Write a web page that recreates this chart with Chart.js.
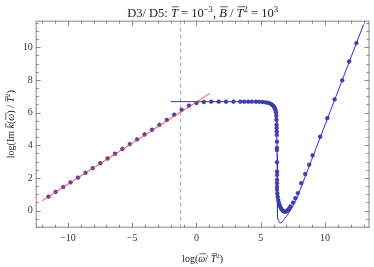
<!DOCTYPE html>
<html>
<head>
<meta charset="utf-8">
<script src="https://cdn.jsdelivr.net/npm/chart.js@4"></script>
<style>body{margin:0;background:#fff}</style>
</head>
<body>
<canvas id="grafico" width="374" height="267"></canvas>
<script>
// axis limits and labelled ticks
const xMin = -12.5, xMax = 13.46, yMin = -1.05, yMax = 11.63;
const xTicks = [-10, -5, 0, 5, 10];
const yTicks = [0, 2, 4, 6, 8, 10];

// numerical points (dots)
const dotX = [-11.51, -10.94, -10.36, -9.79, -9.21, -8.63, -8.06, -7.48, -6.91, -6.33, -5.76, -5.18, -4.61, -4.03, -3.45,
  -2.88, -2.30, -1.73, -1.15, -0.58, 0, 0.58, 1.15, 1.73, 2.30, 2.88, 3.41, 3.72, 4.03, 4.31, 4.62, 4.87, 5.13, 5.38,
  5.56, 5.72, 5.85, 5.95, 6.03, 6.10, 6.15, 6.19, 6.21, 6.22, 6.23, 6.24, 6.25, 6.25, 6.26, 6.26, 6.26, 6.27, 6.27,
  6.27, 6.27, 6.27, 6.27, 6.27, 6.29, 6.32, 6.36, 6.41, 6.47, 6.54, 6.62, 6.70, 6.80, 6.90, 7.00, 7.10, 7.20, 7.31,
  7.52, 7.69, 7.88, 8.15, 8.46, 8.77, 9.03, 9.62, 10.18, 10.75, 11.34, 11.88, 12.44];
const dotY = [0.85, 1.15, 1.44, 1.73, 2.02, 2.31, 2.60, 2.90, 3.19, 3.48, 3.77, 4.07, 4.36, 4.66, 4.95,
  5.25, 5.55, 5.87, 6.17, 6.43, 6.59, 6.65, 6.67, 6.67, 6.67, 6.67, 6.67, 6.67, 6.67, 6.67, 6.67, 6.66, 6.65, 6.63,
  6.60, 6.56, 6.50, 6.44, 6.36, 6.27, 6.15, 6.00, 5.80, 5.57, 5.26, 5.06, 4.84, 4.63, 4.22, 3.84, 3.71, 2.96, 2.39,
  2.19, 1.88, 1.68, 1.45, 1.27, 1.05, 0.85, 0.65, 0.48, 0.33, 0.20, 0.08, 0.00, -0.05, -0.07, -0.05, 0.02, 0.12, 0.25,
  0.49, 0.76, 1.07, 1.68, 2.24, 2.81, 3.38, 4.52, 5.66, 6.81, 7.98, 9.13, 10.26];

// blue approximation curve
const fitX = [-2.0, 4.5, 5.0, 5.4, 5.7, 5.9, 6.05, 6.15, 6.21, 6.25, 6.27, 6.28, 6.29, 6.31, 6.34, 6.39, 6.46,
  6.55, 6.65, 6.8, 7.0, 7.18, 7.4, 7.6, 7.82, 8.2, 13.0];
const fitY = [6.67, 6.67, 6.66, 6.63, 6.56, 6.45, 6.28, 6.05, 5.7, 5.0, 3.5, 1.5, 0.3, -0.2, -0.45, -0.62, -0.72,
  -0.75, -0.72, -0.55, -0.35, -0.16, 0.12, 0.42, 0.75, 1.55, 11.4];

// red low frequency line
const redX = [-12, 1.05];
const redY = [0.6, 7.18];

// dashed marker
const dashX = -1.23;

const pts = (xs, ys) => xs.map((x, i) => ({ x: x, y: ys[i] }));
const serif = '"Liberation Serif", "DejaVu Serif", serif';

function runFont(r, size) {
  return (r.it ? 'italic ' : '') + (r.sup ? size * 0.7 : size) + 'px ' + serif;
}

// draws a row of text pieces centred on cx, baseline cy
function drawRuns(c, runs, cx, cy, size) {
  let w = 0;
  runs.forEach(r => { c.font = runFont(r, size); w += c.measureText(r.t).width; });
  let x = cx - w / 2;
  c.textAlign = 'left';
  c.textBaseline = 'alphabetic';
  runs.forEach(r => {
    c.font = runFont(r, size);
    const rw = c.measureText(r.t).width;
    c.fillText(r.t, x, cy - (r.sup ? size * 0.42 : 0));
    if (r.bar) {
      c.beginPath();
      c.moveTo(x + 1, cy - size * 0.82);
      c.lineTo(x + rw + 1, cy - size * 0.82);
      c.stroke();
    }
    x += rw;
  });
}

const titleRuns = [
  { t: 'D3/ D5: ' }, { t: 'T', it: 1, bar: 1 }, { t: ' = 10' }, { t: '\u22123', sup: 1 }, { t: ', ' },
  { t: 'B', it: 1, bar: 1 }, { t: ' / ' }, { t: 'T', it: 1, bar: 1 }, { t: '2', sup: 1 }, { t: ' = 10' }, { t: '3', sup: 1 }
];
const yRuns = [
  { t: 'log(Im ' }, { t: 'k', it: 1, bar: 1 }, { t: '(' }, { t: '\u03c9', it: 1, bar: 1 }, { t: ') / ' },
  { t: 'T', it: 1, bar: 1 }, { t: '2', sup: 1 }, { t: ')' }
];
const xRuns = [
  { t: 'log(' }, { t: '\u03c9', it: 1, bar: 1 }, { t: '/ ' }, { t: 'T', it: 1, bar: 1 }, { t: '2', sup: 1 }, { t: ')' }
];

const framePlugin = {
  id: 'frame',
  afterDraw(chart) {
    const c = chart.ctx, a = chart.chartArea;
    const sx = chart.scales.x, sy = chart.scales.y;
    c.save();
    c.strokeStyle = '#888';
    c.lineWidth = 1;
    c.strokeRect(a.left + 0.5, a.top + 0.5, a.right - a.left - 1, a.bottom - a.top - 1);
    c.beginPath();
    for (let v = -12; v <= 13; v++) {
      const px = Math.round(sx.getPixelForValue(v)) + 0.5;
      const len = v % 5 === 0 ? 5 : 3;
      c.moveTo(px, a.bottom); c.lineTo(px, a.bottom - len);
      c.moveTo(px, a.top); c.lineTo(px, a.top + len);
    }
    for (let v = -1; v <= 11.5; v += 0.5) {
      const py = Math.round(sy.getPixelForValue(v)) + 0.5;
      const len = v % 2 === 0 ? 5 : 3;
      c.moveTo(a.left, py); c.lineTo(a.left + len, py);
      c.moveTo(a.right, py); c.lineTo(a.right - len, py);
    }
    c.stroke();

    c.fillStyle = '#222';
    c.strokeStyle = '#222';
    c.lineWidth = 0.7;
    drawRuns(c, titleRuns, (a.left + a.right) / 2, 17, 12.5);
    drawRuns(c, xRuns, (a.left + a.right) / 2, 262, 10);
    c.translate(14, (a.top + a.bottom) / 2);
    c.rotate(-Math.PI / 2);
    drawRuns(c, yRuns, 0, 0, 10);
    c.restore();
  }
};

const tickLabel = v => String(v).replace('-', '\u2212');

const ctx = document.getElementById('grafico').getContext('2d');
const grafico = new Chart(ctx, {
  type: 'scatter',
  data: {
    datasets: [
      {
        data: pts(redX, redY),
        showLine: true,
        borderColor: 'rgba(255, 60, 60, 0.95)',
        borderWidth: 1,
        pointRadius: 0
      },
      {
        data: pts(dotX, dotY),
        showLine: false,
        backgroundColor: '#4040b4',
        borderColor: '#30309a',
        borderWidth: 0.5,
        pointRadius: 1.9
      },
      {
        data: pts(fitX, fitY),
        showLine: true,
        borderColor: '#2f2ff5',
        borderWidth: 1,
        pointRadius: 0
      },
      {
        data: pts([dashX, dashX], [yMin, yMax]),
        showLine: true,
        borderColor: '#aaaaaa',
        borderWidth: 1,
        borderDash: [4, 3],
        pointRadius: 0
      }
    ]
  },
  options: {
    responsive: false,
    animation: false,
    devicePixelRatio: 1,
    layout: { padding: { top: 20.7, right: 0.7, left: 0, bottom: 0 } },
    plugins: {
      legend: { display: false },
      title: { display: false },
      tooltip: { enabled: false }
    },
    scales: {
      x: {
        type: 'linear',
        min: xMin,
        max: xMax,
        afterBuildTicks: s => { s.ticks = xTicks.map(v => ({ value: v })); },
        afterFit: s => { s.height = 39.3; },
        grid: { display: false, drawTicks: false },
        border: { display: false },
        ticks: { font: { family: serif, size: 10 }, color: '#333', padding: 5, maxRotation: 0, callback: tickLabel }
      },
      y: {
        type: 'linear',
        min: yMin,
        max: yMax,
        afterBuildTicks: s => { s.ticks = yTicks.map(v => ({ value: v })); },
        afterFit: s => { s.width = 35.7; },
        grid: { display: false, drawTicks: false },
        border: { display: false },
        ticks: { font: { family: serif, size: 10 }, color: '#333', padding: 3, callback: tickLabel }
      }
    }
  },
  plugins: [framePlugin]
});
</script>
</body>
</html>
